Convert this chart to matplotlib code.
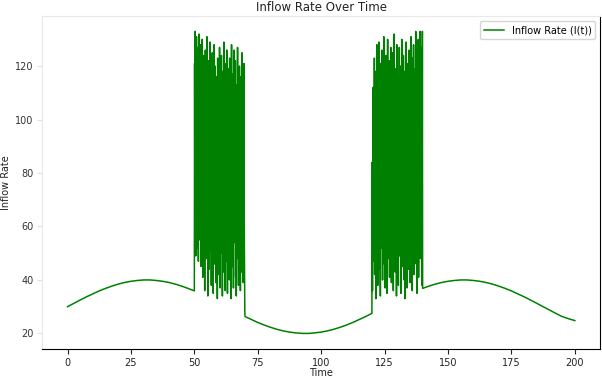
import numpy as np
import matplotlib
matplotlib.use("Agg")
import matplotlib.pyplot as plt

# Smooth baseline segments (time, value)
base1_t = [0, 2.5, 5, 7.5, 10, 12.5, 15, 17.5, 20, 22.5, 25, 27.5, 30, 32.5, 35, 37.5, 40, 42.5, 45, 47.5, 50]
base1_v = [30.0, 31.25, 32.5, 33.7, 34.8, 35.9, 36.85, 37.7, 38.45, 39.05, 39.5, 39.8, 40.0, 40.0,
           39.8, 39.5, 39.05, 38.45, 37.7, 36.85, 35.9]

base2_t = [70, 72.5, 75, 77.5, 80, 82.5, 85, 87.5, 90, 92.5, 95, 97.5, 100, 102.5, 105, 107.5,
           110, 112.5, 115, 117.5, 120]
base2_v = [26.3, 25.2, 24.1, 23.15, 22.3, 21.55, 20.95, 20.5, 20.2, 20.0, 20.0, 20.2, 20.5, 20.95,
           21.55, 22.3, 23.15, 24.1, 25.2, 26.3, 27.5]

base3_t = [140, 142.5, 145, 147.5, 150, 152.5, 155, 157.5, 160, 162.5, 165, 167.5, 170, 172.5,
           175, 177.5, 180, 182.5, 185, 187.5, 190, 192.5, 195, 197.5, 200]
base3_v = [36.85, 37.7, 38.45, 39.05, 39.5, 39.8, 40.0, 40.0, 39.8, 39.5, 39.05, 38.45, 37.7, 36.85,
           35.9, 34.8, 33.7, 32.5, 31.25, 30.0, 28.75, 27.5, 26.3, 25.5, 24.8]

# Bursts (values estimated from the dense spikes)
burst1_start, burst1_end = 50.1, 69.9
burst1_v = [121, 58, 133, 74, 49, 110, 131, 66, 95, 52, 127, 84, 47, 115, 132, 61, 90, 55, 128, 103,
            72, 45, 119, 88, 130, 63, 41, 99, 124, 77, 54, 108, 36, 93, 126, 69, 112, 48, 85, 131,
            59, 101, 34, 122, 79, 117, 44, 96, 67, 129, 51, 106, 83, 38, 114, 73, 125, 57, 91, 35,
            109, 64, 128, 46, 98, 120, 70, 39, 87, 116, 53, 104, 33, 123, 81, 60, 111, 42, 94, 127,
            68, 37, 113, 89, 50, 124, 76, 102, 34, 118, 62, 97, 43, 129, 80, 56, 107, 36, 121, 71,
            92, 47, 126, 65, 35, 110, 85, 119, 52, 100, 40, 123, 74, 58, 115, 33, 96, 128, 63, 88,
            45, 117, 78, 37, 105, 126, 54, 91, 69, 122, 41, 99, 34, 113, 82, 60, 127, 48, 95, 38,
            108, 73, 120, 51, 86, 36, 116, 66, 102, 43, 125, 79, 57, 111, 39, 93, 121, 64, 47, 28]

burst2_start, burst2_end = 120.1, 139.9
burst2_v = [84, 36, 71, 112, 47, 98, 60, 123, 42, 89, 55, 118, 33, 104, 76, 128, 50, 95, 38, 115,
            67, 129, 44, 86, 108, 58, 34, 121, 79, 101, 52, 126, 70, 40, 113, 92, 61, 131, 46, 83,
            117, 37, 99, 73, 124, 54, 106, 35, 88, 130, 63, 110, 48, 94, 122, 41, 78, 103, 57, 127,
            69, 39, 114, 85, 51, 125, 97, 36, 109, 74, 132, 59, 90, 43, 119, 66, 102, 34, 128, 81,
            53, 116, 72, 38, 107, 93, 127, 49, 87, 62, 120, 35, 100, 77, 130, 45, 111, 68, 56, 124,
            96, 40, 118, 82, 33, 105, 64, 129, 50, 91, 37, 121, 75, 58, 113, 44, 99, 126, 61, 86,
            39, 115, 71, 131, 47, 103, 80, 36, 123, 57, 94, 128, 42, 108, 67, 119, 53, 90, 133, 46,
            112, 74, 35, 126, 60, 98, 130, 41, 84, 121, 55, 106, 133, 48, 92, 127, 65, 117, 38, 133]

t = np.concatenate([base1_t,
                    np.linspace(burst1_start, burst1_end, len(burst1_v)),
                    base2_t,
                    np.linspace(burst2_start, burst2_end, len(burst2_v)),
                    base3_t])
v = np.concatenate([base1_v, burst1_v, base2_v, burst2_v, base3_v])

fig = plt.figure(figsize=(6.02, 3.78), dpi=100)
ax = fig.add_axes([0.070, 0.078, 0.927, 0.879])
ax.plot(t, v, color="green", linewidth=1.1, label="Inflow Rate (I(t))")

ax.set_title("Inflow Rate Over Time", fontsize=8.5, color="#222222", pad=3.5)
ax.set_xlabel("Time", fontsize=7, color="#222222", labelpad=0.5)
ax.set_ylabel("Inflow Rate", fontsize=7, color="#222222", labelpad=3)
ax.set_xticks([0, 25, 50, 75, 100, 125, 150, 175, 200])
ax.set_yticks([20, 40, 60, 80, 100, 120])
ax.tick_params(axis="x", labelsize=7, colors="#222222", length=3.5, pad=3)
ax.tick_params(axis="y", labelsize=7, color="#e0e0e0", labelcolor="#333333", length=3.5, pad=2.5)

ax.spines["left"].set_color("#e8e8e8")
ax.spines["top"].set_color("#e8e8e8")
ax.spines["bottom"].set_color("black")
ax.spines["right"].set_color("black")

leg = ax.legend(loc="upper right", fontsize=7, frameon=True, fancybox=True)
leg.get_frame().set_edgecolor("#cccccc")

fig.savefig("out.png", dpi=100)
